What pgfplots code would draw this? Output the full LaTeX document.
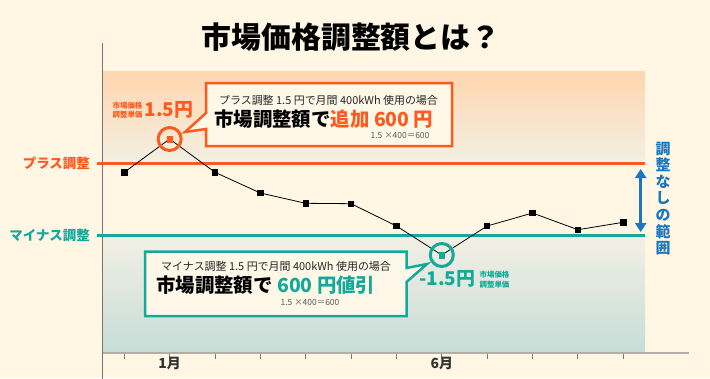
\documentclass[border=0pt]{standalone}
\usepackage{pgfplots}
\pgfplotsset{compat=1.18}
\usepackage{fontspec}
\setmainfont{Noto Sans CJK JP}
\usetikzlibrary{arrows.meta}
\definecolor{bgc}{HTML}{FFF7E4}
\definecolor{orng}{HTML}{FF5A1E}
\definecolor{teal2}{HTML}{14A99A}
\definecolor{blu}{HTML}{1A76C0}
\definecolor{peach}{HTML}{FFD6AE}
\definecolor{midg}{HTML}{F3F0E4}
\definecolor{botc}{HTML}{C6DDD8}
\definecolor{boxf}{HTML}{FFF8E9}
\definecolor{axg}{HTML}{B3AEA6}
\definecolor{vg}{HTML}{7A746E}
\newcommand{\fs}[1]{\fontsize{#1}{#1}\selectfont}
\begin{document}
\begin{tikzpicture}[x=1bp,y=1bp]
\fill[bgc] (0,0) rectangle (710,378);
\useasboundingbox (0,0) rectangle (710,378);
\begin{axis}[at={(102.5bp,25bp)}, anchor=south west,
  width=586.5bp, height=310bp, scale only axis,
  xmin=-0.48, xmax=12.45, ymin=0, ymax=310, clip=false, axis on top,
  axis x line*=bottom, axis y line=none,
  x axis line style={draw=axg, line width=2bp, -},
  xtick={0,...,11}, xticklabels={,1月,,,,,,6月,,,,},
  tick align=outside, major tick length=6bp,
  tick style={draw=vg, line width=0.8bp},
  xticklabel style={font=\fs{14}\bfseries, text=black!80, inner sep=1bp, yshift=3bp},
  ytick=\empty]
\fill[top color=peach, bottom color=midg] (axis cs:-0.48,189.7) rectangle (axis cs:11.48,282);
\fill[top color=midg, bottom color=botc] (axis cs:-0.48,0) rectangle (axis cs:11.48,117.7);
\draw[vg, line width=1bp] (axis cs:-0.48,-30) -- (axis cs:-0.48,310);
\draw[orng, line width=3bp] (axis cs:-0.6,189.7) -- (axis cs:11.49,189.7);
\draw[teal2, line width=3bp] (axis cs:-0.6,117.7) -- (axis cs:11.49,117.7);
\addplot[black, line width=0.8bp, mark=square*, mark size=2.7bp, mark options={fill=black}] coordinates {(0,180.7)(1,214)(2,180.7)(3,160)(4,149.7)(5,149.3)(6,127)(7,98)(8,127)(9,140)(10,123.3)(11,130.7)};
\addplot[only marks, mark=square*, mark size=2.7bp, orng, mark options={fill=orng}] coordinates {(1,214)};
\addplot[only marks, mark=square*, mark size=2.7bp, teal2, mark options={fill=teal2}] coordinates {(7,98)};
\addplot[only marks, mark=o, mark size=11.5bp, orng, mark options={line width=3bp}] coordinates {(1,214)};
\addplot[only marks, mark=o, mark size=11.5bp, teal2, mark options={line width=3bp}] coordinates {(7,98)};
\end{axis}
% title
\node[font=\fs{30}\bfseries] at (351,341) {市場価格調整額とは？};
% left labels
\node[anchor=east, font=\fs{13.5}\bfseries, text=orng, inner sep=0] at (90,215) {プラス調整};
\node[anchor=east, font=\fs{13.5}\bfseries, text=teal2, inner sep=0] at (90,142.3) {マイナス調整};
% top callout
\draw[orng, line width=2.5bp, fill=boxf, line join=miter] (206,295) -- (452,295) -- (452,232) -- (206,232) -- (206,249) -- (185,246) -- (206,265) -- cycle;
\node[font=\fs{11}, text=black!85, inner sep=0] at (328.5,278) {プラス調整 1.5 円で月間 400kWh 使用の場合};
\node[anchor=west, font=\fs{19.5}\bfseries, inner sep=0] at (214,258.7) {市場調整額で\textcolor{orng}{追加 600 円}};
\node[font=\fs{8.5}, text=black!65, inner sep=0] at (400,243) {1.5 ×400＝600};
\node[align=center, font=\fontsize{7.5}{9.5}\selectfont\bfseries, text=orng, inner sep=0] at (127.5,268) {市場価格\\調整単価};
\node[font=\fs{19}\bfseries, text=orng, inner sep=0] at (169,268) {1.5円};
% bottom callout
\draw[teal2, line width=2.5bp, fill=boxf, line join=miter] (145,126.3) -- (406.5,126.3) -- (406.5,110) -- (427,114) -- (406.5,96) -- (406.5,62) -- (145,62) -- cycle;
\node[font=\fs{11}, text=black!85, inner sep=0] at (276,112) {マイナス調整 1.5 円で月間 400kWh 使用の場合};
\node[anchor=west, font=\fs{19.5}\bfseries, inner sep=0] at (156,93) {市場調整額で \textcolor{teal2}{600 円値引}};
\node[font=\fs{8.5}, text=black!65, inner sep=0] at (310,75.3) {1.5 ×400＝600};
\node[font=\fs{19}\bfseries, text=teal2, inner sep=0] at (447.5,99) {-1.5円};
\node[align=center, font=\fontsize{7.5}{9.5}\selectfont\bfseries, text=teal2, inner sep=0] at (494.5,98.5) {市場価格\\調整単価};
% range arrow
\draw[blu, line width=3bp, {Triangle[width=11bp,length=9bp]}-{Triangle[width=11bp,length=9bp]}] (640.7,209) -- (640.7,146);
\node[align=center, font=\fontsize{15}{16.7}\selectfont\bfseries, text=blu, inner sep=0] at (663,179.5) {調\\整\\な\\し\\の\\範\\囲};
\end{tikzpicture}
\end{document}
